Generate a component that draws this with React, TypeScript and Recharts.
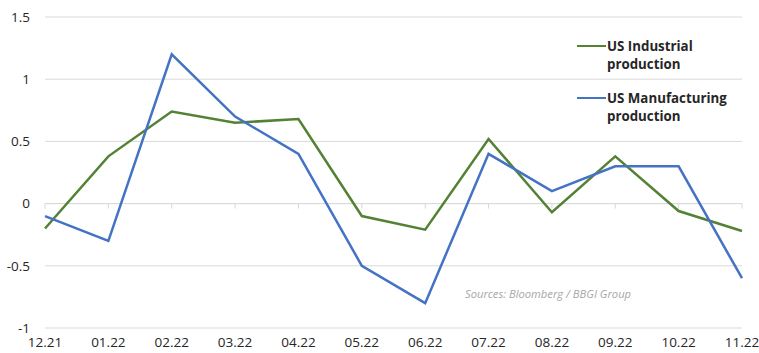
import { LineChart, Line, XAxis, YAxis, CartesianGrid, ReferenceLine } from 'recharts';

const months = ['12.21', '01.22', '02.22', '03.22', '04.22', '05.22', '06.22', '07.22', '08.22', '09.22', '10.22', '11.22'];
const industrial = [-0.2, 0.38, 0.74, 0.65, 0.68, -0.1, -0.21, 0.52, -0.07, 0.38, -0.06, -0.22];
const manufacturing = [-0.1, -0.3, 1.2, 0.7, 0.4, -0.5, -0.8, 0.4, 0.1, 0.3, 0.3, -0.6];
const yTicks = [-1, -0.5, 0, 0.5, 1, 1.5];

const GREEN = '#548235';
const BLUE = '#4472C4';
const FONT = '"Open Sans", sans-serif';

const data = months.map((m, i) => ({
  month: m,
  industrial: industrial[i],
  manufacturing: manufacturing[i],
}));

const legendItems = [
  { color: GREEN, lines: ['US Industrial', 'production'], top: 37 },
  { color: BLUE, lines: ['US Manufacturing', 'production'], top: 89 },
];

export default function App() {
  return (
    <div style={{ position: 'absolute', left: 0, top: 0, width: 759, height: 353, background: '#fff' }}>
      <LineChart width={759} height={353} data={data} margin={{ top: 17, right: 17, bottom: 0, left: 0 }}>
        <CartesianGrid vertical={false} stroke="#d9d9d9" strokeWidth={1} />
        <XAxis
          dataKey="month"
          axisLine={false}
          tickLine={false}
          tickSize={0}
          tickMargin={9}
          height={25}
          interval={0}
          tick={{ fontFamily: FONT, fontSize: 13.5, fill: '#262626' }}
        />
        <YAxis
          domain={[-1, 1.5]}
          ticks={yTicks}
          axisLine={false}
          tickLine={false}
          tickSize={0}
          tickMargin={15}
          width={45}
          tick={{ fontFamily: FONT, fontSize: 13.5, fill: '#262626' }}
        />
        <ReferenceLine y={0} stroke="#d9d9d9" strokeWidth={1} />
        {months.map((m) => (
          <ReferenceLine
            key={m}
            segment={[{ x: m, y: 0 }, { x: m, y: -0.04 }]}
            stroke="#d9d9d9"
            strokeWidth={1}
          />
        ))}
        <Line type="linear" dataKey="industrial" stroke={GREEN} strokeWidth={2.5} dot={false} isAnimationActive={false} />
        <Line type="linear" dataKey="manufacturing" stroke={BLUE} strokeWidth={2.5} dot={false} isAnimationActive={false} />
      </LineChart>
      {legendItems.map((item) => (
        <div
          key={item.lines[0]}
          style={{
            position: 'absolute',
            left: 577,
            top: item.top,
            display: 'flex',
            alignItems: 'flex-start',
            fontFamily: FONT,
            fontWeight: 700,
            fontSize: 13.3,
            color: '#262626',
            lineHeight: '18px',
            background: '#fff',
          }}
        >
          <div style={{ width: 29, height: 2, background: item.color, marginTop: 8, marginRight: 1 }} />
          <div>
            {item.lines.map((l) => (
              <div key={l}>{l}</div>
            ))}
          </div>
        </div>
      ))}
      <div
        style={{
          position: 'absolute',
          left: 465,
          top: 286,
          fontFamily: FONT,
          fontStyle: 'italic',
          fontSize: 11.2,
          color: '#a6a6a6',
          whiteSpace: 'nowrap',
        }}
      >
        Sources: Bloomberg / BBGI Group
      </div>
    </div>
  );
}
